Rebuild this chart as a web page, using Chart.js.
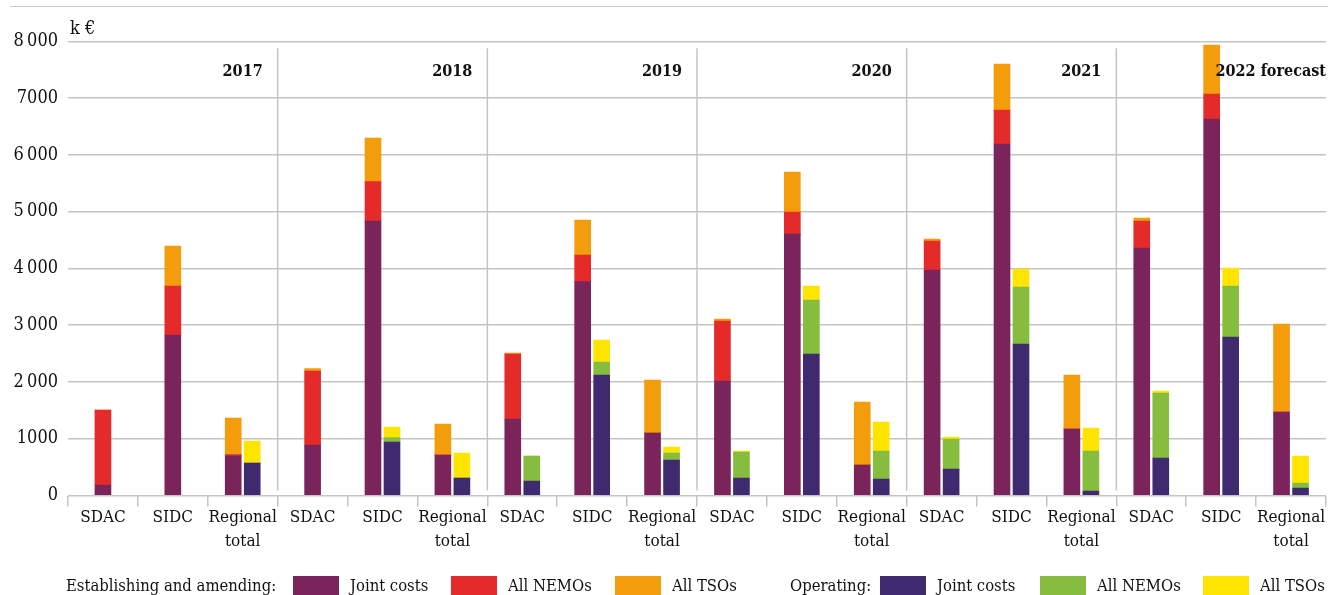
<!DOCTYPE html>
<html><head><meta charset="utf-8">
<script src="https://cdn.jsdelivr.net/npm/chart.js@4"></script>
<style>
html,body{margin:0;padding:0;background:#fff;}
#wrap{position:relative;width:1328px;height:595px;overflow:hidden;background:#fff;}
#topRule{position:absolute;left:10px;right:0;top:6px;height:0;border-top:1.5px solid #c8c8c8;}
#c{position:absolute;left:0;top:0;}
#legend{position:absolute;left:0;top:0;width:1328px;height:595px;pointer-events:none;font-family:'DejaVu Serif Condensed','DejaVu Serif',serif;font-size:16.5px;color:#111;}
.lg{position:absolute;top:575px;white-space:nowrap;line-height:22px;}
.box{position:absolute;top:576px;width:46px;height:22px;}
</style>
</head><body>
<div id="wrap">
  <div id="topRule"></div>
  <canvas id="c" width="1328" height="595"></canvas>
  <div id="legend"></div>
</div>
<script>
// ---- data ----
const years = ['2017', '2018', '2019', '2020', '2021', '2022 forecast'];
const markets = [['SDAC'], ['SIDC'], ['Regional', 'total']];
const unitLabel = 'k €';
const yTickValues = [0, 1000, 2000, 3000, 4000, 5000, 6000, 7000, 8000];
const yTickLabels = ['0', '1000', '2\u2009000', '3\u2009000', '4\u2009000', '5\u2009000', '6\u2009000', '7000', '8\u2009000'];
const groupHeaders = ['Establishing and amending:', 'Operating:'];

// order per year: SDAC, SIDC, Regional total
const estJoint = [185, 2827, 705,   889, 4834, 713,   1347, 3766, 1101,   2017, 4605, 537,   3971, 6190, 1171,   4359, 6631, 1471];
const estNemos = [1320, 863, 15,    1304, 693, 0,     1145, 470, 0,       1056, 388, 0,      511, 599, 0,        475, 440, 0];
const estTsos  = [0, 704, 645,      41, 769, 546,     18, 616, 933,       35, 704, 1110,     36, 811, 951,       53, 863, 1549];
const opJoint  = [null, null, 572,  null, 942, 308,   255, 2122, 625,     308, 2492, 291,    467, 2668, 79,      660, 2791, 132];
const opNemos  = [null, null, 0,    null, 76, 0,      441, 229, 123,      458, 951, 493,     528, 1004, 705,     1145, 899, 88];
const opTsos   = [null, null, 388,  null, 188, 440,   0, 388, 106,        18, 247, 511,      35, 317, 405,       35, 317, 476];

const seriesNames = ['Joint costs', 'All NEMOs', 'All TSOs', 'Joint costs', 'All NEMOs', 'All TSOs'];

// ---- styles ----
const colors = ['#7b245c', '#e52b2a', '#f39c0c', '#3f2a70', '#87bd3f', '#ffe400'];
const FONT = "'DejaVu Serif Condensed', 'DejaVu Serif', serif";
const GRID = '#c4c4c4';
const TEXT = '#111';

const categories = [];
years.forEach(() => markets.forEach(m => categories.push(m)));

const seriesData = [estJoint, estNemos, estTsos, opJoint, opNemos, opTsos];
const stacks = ['est', 'est', 'est', 'op', 'op', 'op'];
const datasets = seriesData.map((d, i) => ({
  label: seriesNames[i],
  data: d,
  backgroundColor: colors[i],
  stack: stacks[i],
  skipNull: true,
  barThickness: 19,
  maxBarThickness: 16,
  borderWidth: 0
}));

const overlay = {
  id: 'overlay',
  beforeDatasetsDraw(chart) {
    const {ctx, chartArea: a, scales: {x}} = chart;
    ctx.save();
    ctx.strokeStyle = GRID; ctx.lineWidth = 1.5;
    for (let g = 1; g < years.length; g++) {
      const i = g * markets.length;
      const xp = (x.getPixelForValue(i - 1) + x.getPixelForValue(i)) / 2;
      ctx.beginPath(); ctx.moveTo(xp, a.top + 7); ctx.lineTo(xp, a.bottom - 5); ctx.stroke();
    }
    ctx.restore();
  },
  afterDraw(chart) {
    const {ctx, chartArea: a, scales: {x}} = chart;
    ctx.save();
    ctx.fillStyle = TEXT;
    ctx.font = 'bold 16px ' + FONT;
    ctx.textAlign = 'right';
    ctx.textBaseline = 'middle';
    years.forEach((yr, g) => {
      let tx;
      if (g === years.length - 1) {
        tx = a.right;
      } else {
        const i = (g + 1) * markets.length;
        tx = (x.getPixelForValue(i - 1) + x.getPixelForValue(i)) / 2 - 15;
      }
      ctx.fillText(yr, tx, a.top + 31);
    });
    ctx.font = '18px ' + FONT;
    ctx.textAlign = 'left';
    ctx.textBaseline = 'alphabetic';
    ctx.fillText(unitLabel, a.left + 2, 34);
    ctx.restore();
  }
};

new Chart(document.getElementById('c'), {
  type: 'bar',
  data: {labels: categories, datasets},
  options: {
    responsive: false,
    animation: false,
    devicePixelRatio: 1,
    layout: {padding: {top: 41.3, right: 2, left: 0, bottom: 0}},
    plugins: {legend: {display: false}, tooltip: {enabled: false}},
    scales: {
      x: {
        stacked: true,
        offset: true,
        afterFit: s => { s.height = 99.5; },
        border: {display: false},
        grid: {
          offset: true,
          drawOnChartArea: false,
          drawTicks: true,
          tickLength: 11,
          tickColor: GRID,
          lineWidth: 1.5
        },
        ticks: {
          color: TEXT,
          padding: -1,
          maxRotation: 0,
          autoSkip: false,
          font: {family: FONT, size: 17, lineHeight: 1.42}
        }
      },
      y: {
        stacked: true,
        min: 0,
        max: 8000,
        afterFit: s => { s.width = 68; },
        afterBuildTicks: s => { s.ticks = yTickValues.map(v => ({value: v})); },
        border: {display: false},
        grid: {color: GRID, lineWidth: 1.5, drawTicks: false},
        ticks: {
          color: TEXT,
          padding: 10,
          font: {family: FONT, size: 18},
          callback: (v, i) => yTickLabels[i]
        }
      }
    }
  },
  plugins: [overlay]
});

// ---- HTML legend ----
const lg = document.getElementById('legend');
const headerX = [66, 790];
const boxX = [293, 451, 615, 880, 1040, 1203];
groupHeaders.forEach((h, i) => {
  const el = document.createElement('div');
  el.className = 'lg'; el.style.left = headerX[i] + 'px'; el.textContent = h;
  lg.appendChild(el);
});
seriesNames.forEach((n, i) => {
  const b = document.createElement('div');
  b.className = 'box'; b.style.left = boxX[i] + 'px'; b.style.background = colors[i];
  lg.appendChild(b);
  const t = document.createElement('div');
  t.className = 'lg'; t.style.left = (boxX[i] + 57) + 'px'; t.textContent = n;
  lg.appendChild(t);
});
</script>
</body></html>
